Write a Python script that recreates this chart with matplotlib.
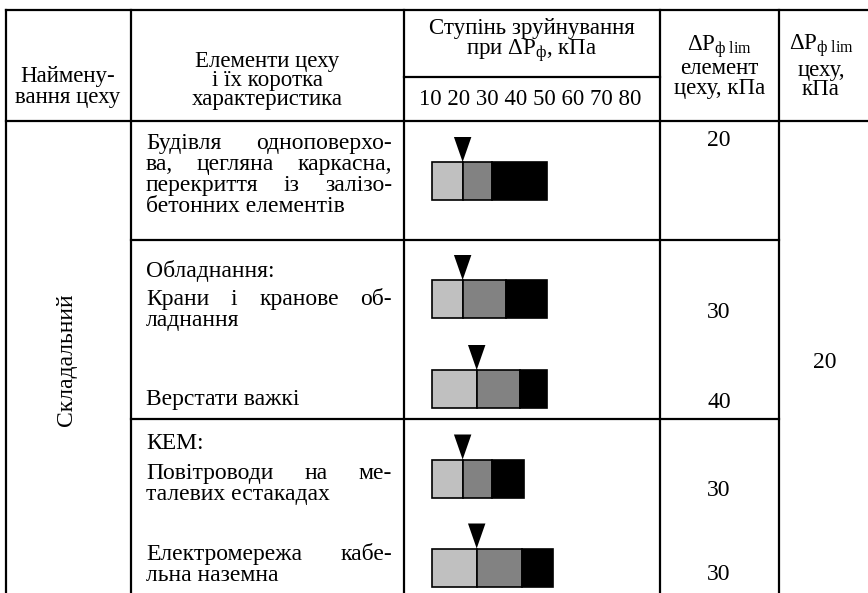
import matplotlib
matplotlib.use('Agg')
import matplotlib.pyplot as plt

plt.rcParams['font.family'] = ['Liberation Serif', 'DejaVu Serif']
plt.rcParams['mathtext.fontset'] = 'custom'
plt.rcParams['mathtext.rm'] = 'Liberation Serif'
plt.rcParams['mathtext.it'] = 'Liberation Serif:italic'

shop_name = 'Складальний'
shop_limit = 20
element_limits = [20, 30, 40, 30, 30]

# damage ranges, kPa: weak / medium / strong, bar ends at full_to
weak_from = [10, 10, 10, 10, 10]
medium_from = [21, 21, 26, 21, 26]
strong_from = [31.5, 36.5, 41.5, 31.5, 42]
full_to = [51, 51, 51, 43, 53]
arrow_at = [21, 21, 26, 21, 26]
scale_ticks = [10, 20, 30, 40, 50, 60, 70, 80]

# (text, justified?) per line of column 2
row_lines = [
    [('Будівля одноповерхо-', True), ('ва, цегляна каркасна,', True),
     ('перекриття із залізо-', True), ('бетонних елементів', False)],
    [('Обладнання:', False), ('Крани і кранове об-', True),
     ('ладнання', False), ('Верстати важкі', False)],
    [('КЕМ:', False), ('Повітроводи на ме-', True),
     ('талевих естакадах', False), ('Електромережа кабе-', True),
     ('льна наземна', False)],
]
line_base = [[149, 170, 191, 212], [277, 305, 326, 405], [449, 479, 500, 560, 581]]

W, H = 868, 593
fs = 17
hfs = 16.5
fig = plt.figure(figsize=(W / 100, H / 100), dpi=100)
ax = fig.add_axes([0, 0, 1, 1])
ax.set_xlim(0, W)
ax.set_ylim(H, 0)
ax.axis('off')

lw = 1.6
xs = [6, 131, 404, 660, 779]
x_right = 874
for x in xs:
    ax.plot([x, x], [10, H + 5], color='black', lw=lw, solid_capstyle='projecting')
ax.plot([6, x_right], [10, 10], color='black', lw=lw)
ax.plot([6, x_right], [121, 121], color='black', lw=lw)
ax.plot([404, 660], [77, 77], color='black', lw=lw)
ax.plot([131, 779], [240, 240], color='black', lw=lw)
ax.plot([131, 779], [419, 419], color='black', lw=lw)

# header
dp = r'ΔP$_{\mathrm{ф\ lim}}$'
hdr = dict(ha='center', va='baseline', fontsize=hfs)
ax.text(68, 82, 'Наймену-', **hdr)
ax.text(68, 103, 'вання цеху', **hdr)
ax.text(267, 67, 'Елементи цеху', **hdr)
ax.text(267, 86, 'і їх коротка', **hdr)
ax.text(267, 105, 'характеристика', **hdr)
ax.text(532, 34, 'Ступінь зруйнування', **hdr)
ax.text(532, 55, r'при ΔP$_{\mathrm{ф}}$, кПа', **hdr)
ax.text(530, 105, ' '.join(str(t) for t in scale_ticks), **hdr)
ax.text(719, 51, dp, **hdr)
ax.text(719, 74, 'елемент', **hdr)
ax.text(720, 94, 'цеху, кПа', **hdr)
ax.text(821, 50, dp, **hdr)
ax.text(821, 76, 'цеху,', **hdr)
ax.text(821, 95, 'кПа', **hdr)

ax.text(67, 360, shop_name, rotation=90, ha='center', va='center', fontsize=fs)
ax.text(825, 368, str(shop_limit), ha='center', va='baseline', fontsize=fs)

for v, yb in zip(element_limits, [146, 318, 408, 496, 580]):
    ax.text(719, yb, str(v), ha='center', va='baseline', fontsize=fs)

# column 2 text, some lines justified
renderer = fig.canvas.get_renderer()
x0, x1 = 146, 392
for lines, bases in zip(row_lines, line_base):
    for (txt, just), yb in zip(lines, bases):
        if not just:
            ax.text(x0, yb, txt, ha='left', va='baseline', fontsize=fs)
            continue
        words = txt.split()
        items = [ax.text(0, yb, w, ha='left', va='baseline', fontsize=fs) for w in words]
        widths = [t.get_window_extent(renderer).width for t in items]
        gap = (x1 - x0 - sum(widths)) / (len(words) - 1)
        x = x0
        for t, w in zip(items, widths):
            t.set_x(x)
            x += w + gap

# damage bars
bar_y = [181, 299, 389, 478.5, 567.5]
bar_h = 38
bax = fig.add_axes([404 / W, 0, (660 - 404) / W, (H - 121) / H])
bax.set_xlim(0.14, 91.2)
bax.set_ylim(H, 121)
bax.axis('off')
n = len(bar_y)
bax.barh(bar_y, [medium_from[i] - weak_from[i] for i in range(n)], left=weak_from,
         height=bar_h, color='#c0c0c0', edgecolor='black', lw=1.2)
bax.barh(bar_y, [strong_from[i] - medium_from[i] for i in range(n)], left=medium_from,
         height=bar_h, color='#828282', edgecolor='black', lw=1.2)
bax.barh(bar_y, [full_to[i] - strong_from[i] for i in range(n)], left=strong_from,
         height=bar_h, color='black', edgecolor='black', lw=1.2)
for a, y in zip(arrow_at, bar_y):
    top = y - bar_h / 2
    bax.fill([a - 3.1, a + 3.1, a], [top - 25, top - 25, top], color='black', lw=0)

fig.savefig('out.png', dpi=100)
